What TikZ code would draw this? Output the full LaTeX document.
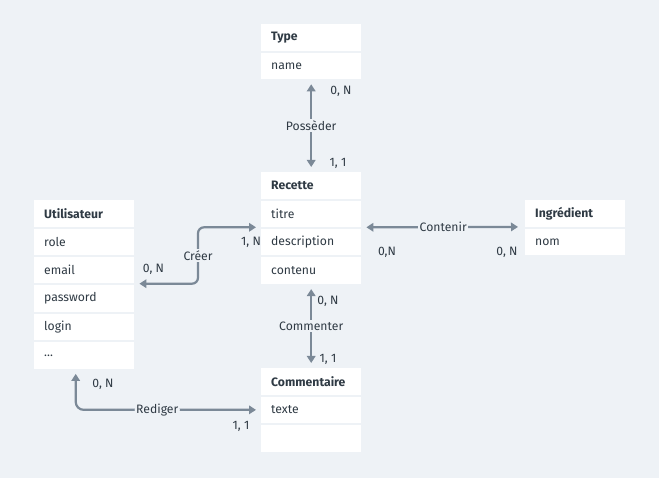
\documentclass[tikz,border=0pt]{standalone}
\usepackage{fontspec}
\setmainfont{Fira Sans}
\usetikzlibrary{positioning}
\usetikzlibrary{arrows.meta}
\definecolor{bgcol}{HTML}{EEF2F6}
\definecolor{linkcol}{HTML}{7B8997}
\definecolor{txtcol}{HTML}{2F3A44}

\begin{document}
\begin{tikzpicture}[x=1pt,y=-1pt,node distance=1.5pt]
\tikzstyle{every node}=[font=\fontsize{12.2}{14}\selectfont,text=txtcol]
\tikzstyle{attr}=[fill=white,text width=80pt,inner xsep=10pt,inner ysep=0pt,
minimum height=26.5pt,align=left]
\tikzstyle{head}=[attr,font=\fontsize{12.2}{14}\selectfont\bfseries]
\tikzstyle{link}=[draw=linkcol,line width=2.2pt,
{Triangle[length=7pt,width=8.5pt]}-{Triangle[length=7pt,width=8.5pt]},
shorten <=5pt,shorten >=5pt]
\tikzstyle{lbl}=[fill=bgcol,inner sep=1.5pt]
\tikzstyle{card}=[inner sep=0pt]

\useasboundingbox[fill=bgcol] (0,0) rectangle (659,478);

% entities
\node[head,anchor=north west] (type) at (261,24) {Type};
\node[attr,below=of type] (type-name) {name};

\node[head,anchor=north west] (recette) at (261,172) {Recette};
\node[attr,below=of recette] (recette-titre) {titre};
\node[attr,below=of recette-titre] (recette-description) {description};
\node[attr,below=of recette-description] (recette-contenu) {contenu};

\node[head,anchor=north west] (utilisateur) at (34,200) {Utilisateur};
\node[attr,below=of utilisateur] (utilisateur-role) {role};
\node[attr,below=of utilisateur-role] (utilisateur-email) {email};
\node[attr,below=of utilisateur-email] (utilisateur-password) {password};
\node[attr,below=of utilisateur-password] (utilisateur-login) {login};
\node[attr,below=of utilisateur-login] (utilisateur-etc) {...};

\node[head,anchor=north west] (ingredient) at (525,200) {Ingrédient};
\node[attr,below=of ingredient] (ingredient-nom) {nom};

\node[head,anchor=north west] (commentaire) at (261,368) {Commentaire};
\node[attr,below=of commentaire] (commentaire-texte) {texte};
\node[attr,below=of commentaire-texte] (commentaire-vide) {};

% associations
\draw[link] (type-name.south) -- node[lbl] {Possèder} (recette.north);
\draw[link,rounded corners=6pt] (utilisateur-email.south east)
  -| node[lbl,pos=0.75] {Créer} ([xshift=-63pt]recette-titre.south west)
  -- (recette-titre.south west);
\draw[link,shorten >=7pt] (recette-titre.south east) -- node[lbl] {Contenir} (ingredient.south west);
\draw[link] (recette-contenu.south) -- node[lbl] {Commenter} (commentaire.north);
\draw[link,rounded corners=8pt] ([xshift=-8.5pt]utilisateur-etc.south)
  |- node[lbl,pos=0.72] {Rediger} (commentaire-texte.west);

% cardinalities
\node[card] (c-type) at (341,91) {0, N};
\node[card] (c-recette-type) at (338,163) {1, 1};
\node[card] (c-utilisateur) at (153.5,269) {0, N};
\node[card] (c-recette-util) at (251,242) {1, N};
\node[card] (c-recette-ingr) at (387,252) {0,N};
\node[card] (c-ingredient) at (507,252) {0, N};
\node[card] (c-recette-comm) at (328,301) {0, N};
\node[card] (c-commentaire) at (328,359) {1, 1};
\node[card] (c-utilisateur-comm) at (103,384) {0, N};
\node[card] (c-commentaire-util) at (241,426) {1, 1};
\end{tikzpicture}
\end{document}
